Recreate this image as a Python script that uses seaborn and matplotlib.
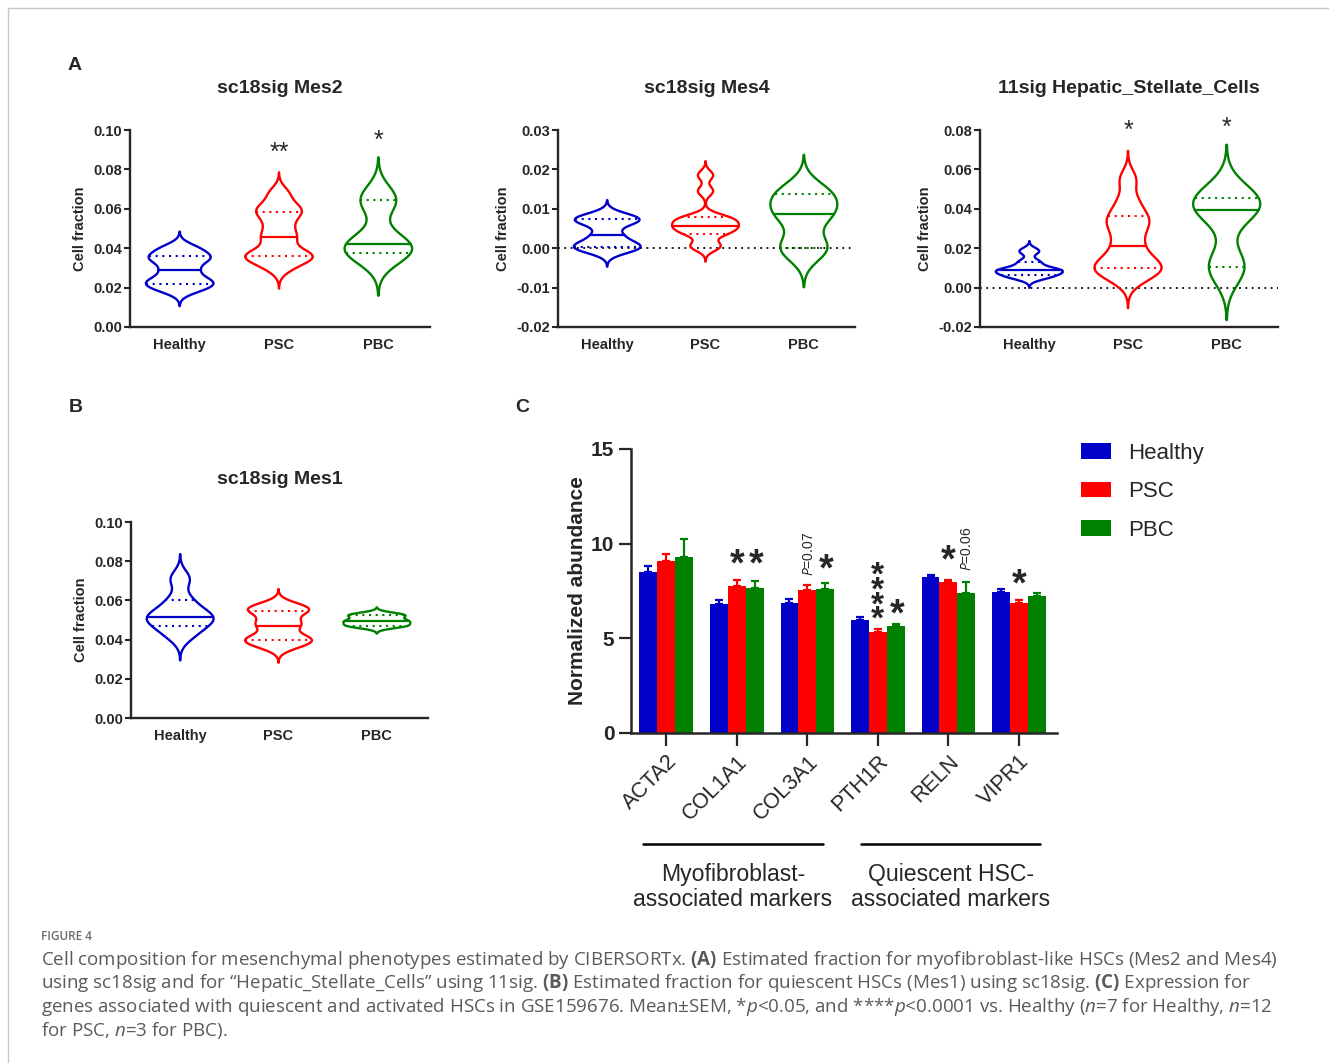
import numpy as np
import pandas as pd
import matplotlib.pyplot as plt
import seaborn as sns
from matplotlib.lines import Line2D
from matplotlib.ticker import FuncFormatter

sns.set_style("ticks")
plt.rcParams["font.family"] = ["Liberation Sans", "DejaVu Sans"]
plt.rcParams["axes.unicode_minus"] = False
plt.rcParams["mathtext.fontset"] = "custom"
plt.rcParams["mathtext.rm"] = "Open Sans"
plt.rcParams["mathtext.it"] = "Open Sans:italic"
plt.rcParams["mathtext.bf"] = "Open Sans:bold"

W, H = 1329, 1063
GROUPS = ["Healthy", "PSC", "PBC"]
COLORS = ["#0000C8", "#FF0000", "#008000"]

# ---- violin samples (n=7 / 12 / 3) ----
mes2_healthy = [0.019, 0.022, 0.024, 0.029, 0.034, 0.036, 0.040]
mes2_psc = [0.030, 0.034, 0.036, 0.036, 0.038, 0.044, 0.047, 0.052, 0.057, 0.059, 0.062, 0.068]
mes2_pbc = [0.0375, 0.042, 0.0645]

mes4_healthy = [-0.0005, 0.0003, 0.0010, 0.0033, 0.0065, 0.0073, 0.0080]
mes4_psc = [0.0002, 0.0008, 0.0035, 0.0040, 0.0050, 0.0055, 0.0060, 0.0070, 0.0075, 0.0080, 0.0145, 0.0185]
mes4_pbc = [0.0, 0.0086, 0.0138]

hsc_healthy = [0.0050, 0.0063, 0.0080, 0.0088, 0.0095, 0.0130, 0.0185]
hsc_psc = [0.004, 0.008, 0.010, 0.010, 0.014, 0.018, 0.024, 0.030, 0.034, 0.037, 0.044, 0.055]
hsc_pbc = [0.0105, 0.0395, 0.0455]

mes1_healthy = [0.042, 0.047, 0.050, 0.0517, 0.054, 0.060, 0.071]
mes1_psc = [0.036, 0.038, 0.040, 0.040, 0.042, 0.046, 0.048, 0.050, 0.054, 0.055, 0.056, 0.058]
mes1_pbc = [0.047, 0.0495, 0.0525]

# kernel bandwidths per violin
mes2_bw = [0.0028, 0.0035, 0.0072]
mes4_bw = [0.0014, 0.0012, 0.0033]
hsc_bw = [0.0017, 0.0048, 0.0090]
mes1_bw = [0.0042, 0.0026, 0.0013]

# ---- panel C: normalized abundance, mean and SEM ----
genes = ["ACTA2", "COL1A1", "COL3A1", "PTH1R", "RELN", "VIPR1"]
mean_healthy = [8.51, 6.82, 6.89, 5.99, 8.23, 7.46]
mean_psc = [9.11, 7.77, 7.53, 5.36, 7.99, 6.84]
mean_pbc = [9.27, 7.65, 7.60, 5.64, 7.37, 7.21]
sem_healthy = [0.32, 0.20, 0.18, 0.13, 0.13, 0.16]
sem_psc = [0.34, 0.30, 0.28, 0.12, 0.08, 0.18]
sem_pbc = [0.97, 0.37, 0.30, 0.11, 0.60, 0.19]


def box(l, t, r, b):
    return [l / W, 1 - b / H, (r - l) / W, (b - t) / H]


def fx(x):
    return x / W


def fy(y):
    return 1 - y / H


fig = plt.figure(figsize=(W / 100, H / 100), dpi=100)


def violin_panel(rect, samples, bws, ylim, yticks, title, stars, zero_line=False):
    ax = fig.add_axes(rect)
    if zero_line:
        ax.axhline(0, color="black", lw=1.3, ls=(0, (1, 2.5)), zorder=0)
    for i, (vals, bw, col) in enumerate(zip(samples, bws, COLORS)):
        frame = pd.DataFrame({"group": GROUPS[i], "value": vals})
        factor = bw / np.std(vals, ddof=1)
        sns.violinplot(data=frame, x="group", y="value", order=GROUPS,
                       color=col, fill=False, inner=None, cut=3,
                       bw_method=factor, width=0.68, linewidth=1.7, ax=ax)
        verts = ax.collections[-1].get_paths()[0].vertices
        right = verts[verts[:, 0] > i + 1e-9]
        right = right[np.argsort(right[:, 1])]
        qs = np.percentile(vals, [25, 50, 75], method="weibull")
        for k, q in enumerate(qs):
            half = np.interp(q, right[:, 1], right[:, 0]) - i
            ax.plot([i - half, i + half], [q, q], color=col,
                    lw=1.6 if k == 1 else 1.5,
                    ls="-" if k == 1 else (0, (1, 2.2)))
    ax.set_xlim(-0.5, 2.52)
    ax.set_ylim(*ylim)
    ax.set_yticks(yticks)
    ax.yaxis.set_major_formatter(FuncFormatter(lambda v, p: f"{v:.2f}"))
    sns.despine(ax=ax)
    for s in ["left", "bottom"]:
        ax.spines[s].set_linewidth(1.7)
    ax.tick_params(axis="x", length=0, pad=8, labelsize=10.5)
    ax.tick_params(axis="y", length=4, width=1.5, pad=1.5, labelsize=10.5)
    for t in ax.get_xticklabels() + ax.get_yticklabels():
        t.set_fontweight("bold")
    ax.set_xlabel("")
    ax.set_ylabel("Cell fraction", fontsize=10.5, fontweight="bold", labelpad=5)
    x0, y0, w0, h0 = rect
    fig.text(x0 + w0 / 2, y0 + h0 + 42 / H, title, ha="center", va="center",
             fontsize=14, fontweight="bold")
    for gi, y, s in stars:
        ax.text(gi, y, s, ha="center", va="center", fontsize=18)
    return ax


violin_panel(box(130, 130, 430, 327), [mes2_healthy, mes2_psc, mes2_pbc], mes2_bw,
             (0, 0.10), np.arange(0, 0.101, 0.02), "sc18sig Mes2",
             [(1, 0.0885, "**"), (2, 0.0945, "*")])
violin_panel(box(558, 130, 855, 327), [mes4_healthy, mes4_psc, mes4_pbc], mes4_bw,
             (-0.02, 0.03), np.arange(-0.02, 0.031, 0.01), "sc18sig Mes4", [],
             zero_line=True)
violin_panel(box(980, 130, 1278, 327), [hsc_healthy, hsc_psc, hsc_pbc], hsc_bw,
             (-0.02, 0.08), np.arange(-0.02, 0.081, 0.02), "11sig Hepatic_Stellate_Cells",
             [(1, 0.0795, "*"), (2, 0.081, "*")], zero_line=True)
violin_panel(box(131, 522, 428, 718), [mes1_healthy, mes1_psc, mes1_pbc], mes1_bw,
             (0, 0.10), np.arange(0, 0.101, 0.02), "sc18sig Mes1", [])

# ---- panel C bars ----
axc = fig.add_axes(box(631, 449, 1057, 733))
bars = pd.DataFrame({
    "gene": genes * 3,
    "group": np.repeat(GROUPS, len(genes)),
    "mean": mean_healthy + mean_psc + mean_pbc,
})
sns.barplot(data=bars, x="gene", y="mean", hue="group", order=genes,
            hue_order=GROUPS, palette=COLORS, saturation=1, errorbar=None,
            width=0.76, linewidth=0, ax=axc)
for container, sems, col in zip(axc.containers, [sem_healthy, sem_psc, sem_pbc], COLORS):
    xs = [p.get_x() + p.get_width() / 2 for p in container.patches]
    hs = [p.get_height() for p in container.patches]
    axc.errorbar(xs, hs, yerr=[np.zeros(len(sems)), sems], fmt="none",
                 ecolor=col, elinewidth=1.6, capsize=3, capthick=1.6)

axc.set_xlim(-0.5, 5.54)
axc.set_ylim(0, 15)
axc.set_yticks([0, 5, 10, 15])
sns.despine(ax=axc)
for s in ["left", "bottom"]:
    axc.spines[s].set_linewidth(1.8)
axc.tick_params(axis="y", length=9, width=1.6, pad=3, labelsize=15)
axc.tick_params(axis="x", length=9, width=1.6, pad=4, labelsize=15.5)
for t in axc.get_yticklabels():
    t.set_fontweight("bold")
axc.set_xticks(range(len(genes)))
axc.set_xticklabels(genes, rotation=45, ha="right", rotation_mode="anchor")
axc.set_xlabel("")
axc.set_ylabel("Normalized abundance", fontsize=15, fontweight="bold", labelpad=3)

star = dict(ha="center", va="center", fontsize=27, fontweight="bold")
axc.text(1, 8.85, "*", **star)
axc.text(1.27, 8.85, "*", **star)
axc.text(2.27, 8.6, "*", **star)
axc.text(3.0, 9.1, "*\n*\n*\n*", ha="center", va="top", fontsize=24,
         fontweight="bold", linespacing=0.32)
axc.text(3.27, 6.2, "*", **star)
axc.text(4, 9.05, "*", **star)
axc.text(5, 7.8, "*", **star)
axc.text(2.02, 9.48, r"$\mathit{P}$=0.07", rotation=90, ha="center", va="center", fontsize=10)
axc.text(4.27, 9.75, r"$\mathit{P}$=0.06", rotation=90, ha="center", va="center", fontsize=10)

sns.move_legend(axc, "upper left", bbox_to_anchor=(fx(1081), fy(443)),
                bbox_transform=fig.transFigure, frameon=False, title=None,
                fontsize=16, handlelength=1.35, handleheight=0.7,
                handletextpad=0.75, labelspacing=0.78, borderpad=0, borderaxespad=0)

# group brackets under panel C
for x0, x1, xm, label in [(643, 823, 733, "Myofibroblast-\nassociated markers"),
                          (861, 1040, 951, "Quiescent HSC-\nassociated markers")]:
    fig.add_artist(Line2D([fx(x0), fx(x1)], [fy(844)] * 2, color="black", lw=1.8))
    fig.text(fx(xm), fy(887), label, ha="center", va="center", fontsize=16.6,
             linespacing=1.1)

# panel letters
for x, y, s in [(75, 65, "A"), (76, 408, "B"), (522, 408, "C")]:
    fig.text(fx(x), fy(y), s, ha="center", va="center", fontsize=14, fontweight="bold")

# outer frame
fig.add_artist(Line2D([fx(8), 1], [fy(8)] * 2, color="#c8c8c8", lw=1))
fig.add_artist(Line2D([fx(8)] * 2, [0, fy(8)], color="#c8c8c8", lw=1))

# caption
fig.text(fx(41), fy(937), "FIGURE 4", family="Open Sans", fontsize=8.5,
         color="#6b6b6b", va="center", fontweight="semibold")
caption = [
    r"Cell composition for mesenchymal phenotypes estimated by CIBERSORTx. $\mathbf{(A)}$ Estimated fraction for myofibroblast-like HSCs (Mes2 and Mes4)",
    r"using sc18sig and for “Hepatic_Stellate_Cells” using 11sig. $\mathbf{(B)}$ Estimated fraction for quiescent HSCs (Mes1) using sc18sig. $\mathbf{(C)}$ Expression for",
    r"genes associated with quiescent and activated HSCs in GSE159676. Mean±SEM, *$\mathit{p}$<0.05, and ****$\mathit{p}$<0.0001 vs. Healthy ($\mathit{n}$=7 for Healthy, $\mathit{n}$=12",
    r"for PSC, $\mathit{n}$=3 for PBC).",
]
cap_texts = []
for k, line in enumerate(caption):
    cap_texts.append(fig.text(fx(41), fy(960 + 23.5 * k), line, family="Open Sans",
                              fontsize=12, color="#5a5a5a", va="center"))
fig.canvas.draw()
scale = (1279 - 41) / cap_texts[0].get_window_extent().width
for t in cap_texts:
    t.set_fontsize(12 * scale)

fig.savefig("out.png", dpi=100)
